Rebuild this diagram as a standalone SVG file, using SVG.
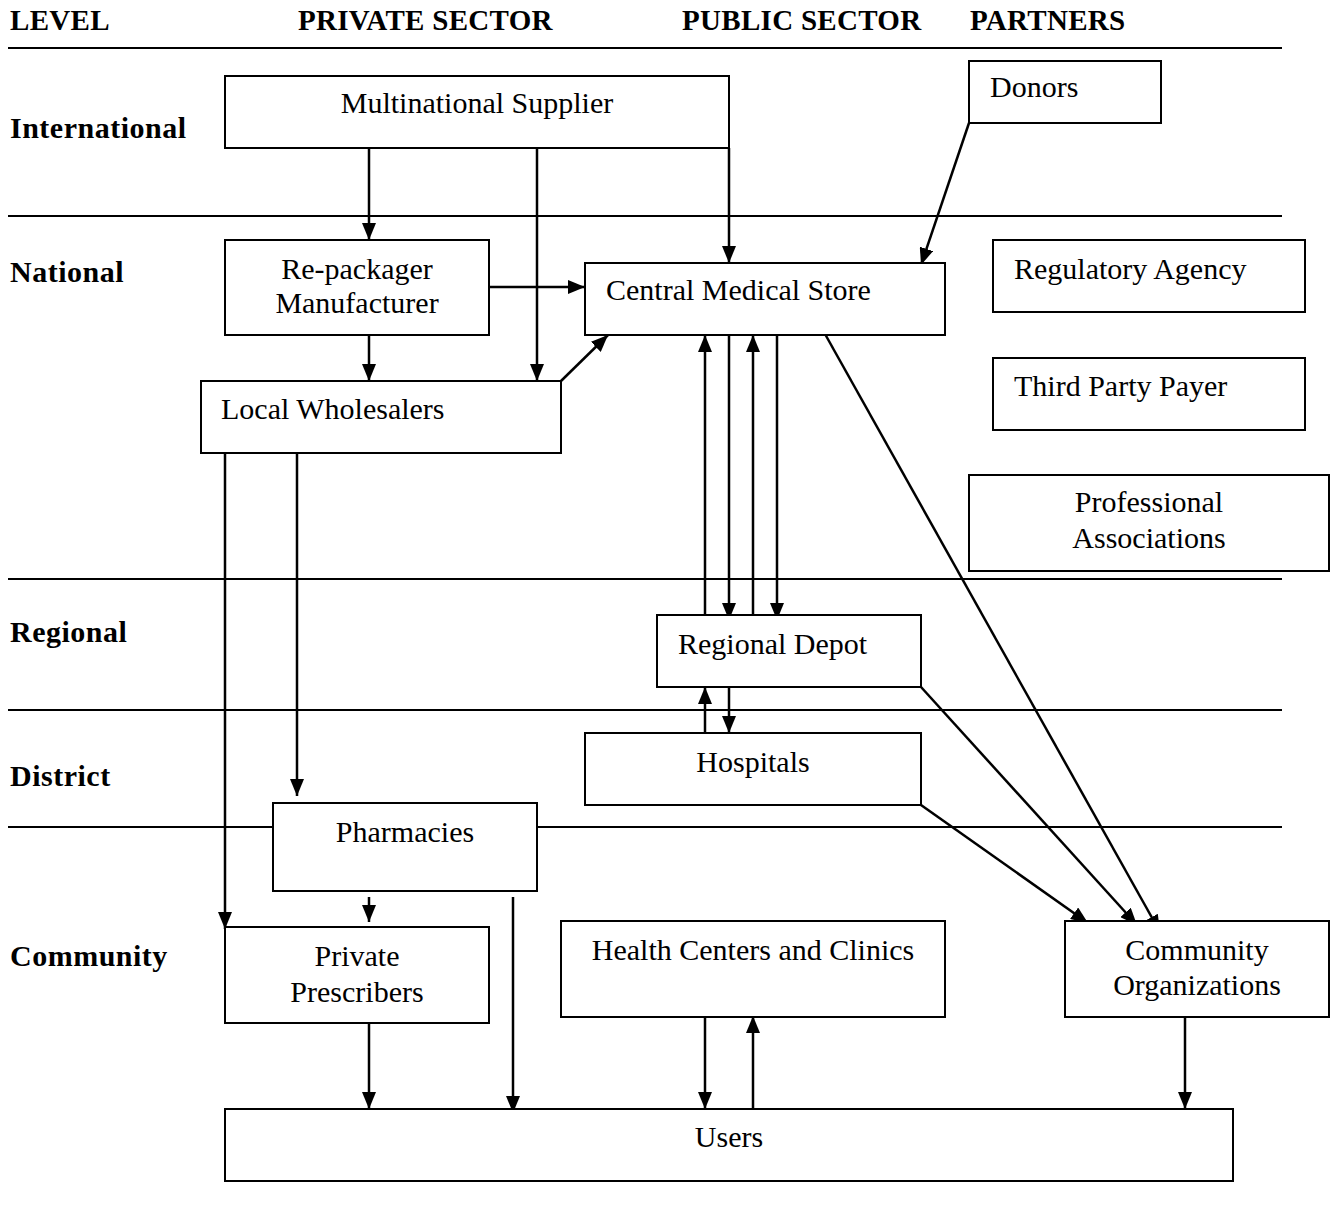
<svg xmlns="http://www.w3.org/2000/svg" width="1336" height="1224" viewBox="0 0 1336 1224">
<defs>
<marker id="ah" markerUnits="userSpaceOnUse" markerWidth="17" markerHeight="14" viewBox="0 0 17 14" refX="17" refY="7" orient="auto">
<path d="M0,0 L17,7 L0,14 Z" fill="#000"/>
</marker>
</defs>
<style>
.hdr{font-family:"Liberation Serif",serif;font-weight:bold;font-size:29px;letter-spacing:0.3px;fill:#000}
.lvl{font-family:"Liberation Serif",serif;font-weight:bold;font-size:30px;letter-spacing:0.5px;fill:#000}
.t{font-family:"Liberation Serif",serif;font-size:30px;fill:#000}
.c{text-anchor:middle}
.box{fill:#fff;stroke:#000;stroke-width:2}
.sep{stroke:#000;stroke-width:2}
.e{stroke:#000;stroke-width:2.5;fill:none}
.a{marker-end:url(#ah)}
</style>
<rect width="1336" height="1224" fill="#fff"/>
<g id="headers">
<text class="hdr" x="10" y="30">LEVEL</text>
<text class="hdr" x="298" y="30">PRIVATE SECTOR</text>
<text class="hdr" x="682" y="30">PUBLIC SECTOR</text>
<text class="hdr" x="970" y="30">PARTNERS</text>
</g>
<g id="levels">
<text class="lvl" x="10" y="138">International</text>
<text class="lvl" x="10" y="282">National</text>
<text class="lvl" x="10" y="642">Regional</text>
<text class="lvl" x="10" y="786">District</text>
<text class="lvl" x="10" y="966">Community</text>
</g>
<g id="separators">
<line class="sep" x1="8" y1="48" x2="1282" y2="48"/>
<line class="sep" x1="8" y1="216" x2="1282" y2="216"/>
<line class="sep" x1="8" y1="579" x2="1282" y2="579"/>
<line class="sep" x1="8" y1="710" x2="1282" y2="710"/>
<line class="sep" x1="8" y1="827" x2="1282" y2="827"/>
</g>
<g id="connectors">
<line class="e a" x1="369" y1="148" x2="369" y2="240"/>
<line class="e a" x1="537" y1="148" x2="537" y2="381"/>
<line class="e a" x1="729" y1="148" x2="729" y2="263"/>
<line class="e a" x1="969" y1="123" x2="921" y2="265"/>
<line class="e a" x1="489" y1="287" x2="585" y2="287"/>
<line class="e a" x1="369" y1="335" x2="369" y2="381"/>
<line class="e a" x1="561" y1="381" x2="608" y2="335"/>
<line class="e a" x1="225" y1="451" x2="225" y2="929"/>
<line class="e a" x1="297" y1="435" x2="297" y2="796"/>
<line class="e a" x1="705" y1="615" x2="705" y2="335"/>
<line class="e a" x1="729" y1="333" x2="729" y2="620"/>
<line class="e a" x1="753" y1="615" x2="753" y2="335"/>
<line class="e a" x1="777" y1="333" x2="777" y2="620"/>
<line class="e a" x1="825" y1="334" x2="1160" y2="932"/>
<line class="e a" x1="921" y1="687" x2="1137" y2="925"/>
<line class="e a" x1="921" y1="805" x2="1088" y2="923"/>
<line class="e a" x1="705" y1="733" x2="705" y2="687"/>
<line class="e a" x1="729" y1="685" x2="729" y2="733"/>
<line class="e a" x1="369" y1="897" x2="369" y2="922"/>
<line class="e a" x1="513" y1="897" x2="513" y2="1113"/>
<line class="e a" x1="369" y1="1015" x2="369" y2="1109"/>
<line class="e a" x1="705" y1="1015" x2="705" y2="1109"/>
<line class="e a" x1="753" y1="1110" x2="753" y2="1016"/>
<line class="e a" x1="1185" y1="1015" x2="1185" y2="1109"/>
</g>
<g id="multinational-supplier"><rect class="box" x="225" y="76" width="504" height="72"/><text class="t c" x="477" y="113">Multinational Supplier</text></g>
<g id="donors"><rect class="box" x="969" y="61" width="192" height="62"/><text class="t" x="990" y="97">Donors</text></g>
<g id="repackager"><rect class="box" x="225" y="240" width="264" height="95"/><text class="t c" x="357" y="279">Re-packager</text><text class="t c" x="357" y="313">Manufacturer</text></g>
<g id="central-medical-store"><rect class="box" x="585" y="263" width="360" height="72"/><text class="t" x="606" y="300">Central Medical Store</text></g>
<g id="regulatory-agency"><rect class="box" x="993" y="240" width="312" height="72"/><text class="t" x="1014" y="279">Regulatory Agency</text></g>
<g id="third-party-payer"><rect class="box" x="993" y="358" width="312" height="72"/><text class="t" x="1014" y="396">Third Party Payer</text></g>
<g id="professional-associations"><rect class="box" x="969" y="475" width="360" height="96"/><text class="t c" x="1149" y="512">Professional</text><text class="t c" x="1149" y="548">Associations</text></g>
<g id="local-wholesalers"><rect class="box" x="201" y="381" width="360" height="72"/><text class="t" x="221" y="419">Local Wholesalers</text></g>
<g id="regional-depot"><rect class="box" x="657" y="615" width="264" height="72"/><text class="t" x="678" y="654">Regional Depot</text></g>
<g id="hospitals"><rect class="box" x="585" y="733" width="336" height="72"/><text class="t c" x="753" y="772">Hospitals</text></g>
<g id="pharmacies"><rect class="box" x="273" y="803" width="264" height="88"/><text class="t c" x="405" y="842">Pharmacies</text></g>
<g id="private-prescribers"><rect class="box" x="225" y="927" width="264" height="96"/><text class="t c" x="357" y="966">Private</text><text class="t c" x="357" y="1002">Prescribers</text></g>
<g id="health-centers"><rect class="box" x="561" y="921" width="384" height="96"/><text class="t c" x="753" y="960">Health Centers and Clinics</text></g>
<g id="community-organizations"><rect class="box" x="1065" y="921" width="264" height="96"/><text class="t c" x="1197" y="960">Community</text><text class="t c" x="1197" y="995">Organizations</text></g>
<g id="users"><rect class="box" x="225" y="1109" width="1008" height="72"/><text class="t c" x="729" y="1147">Users</text></g>
</svg>
